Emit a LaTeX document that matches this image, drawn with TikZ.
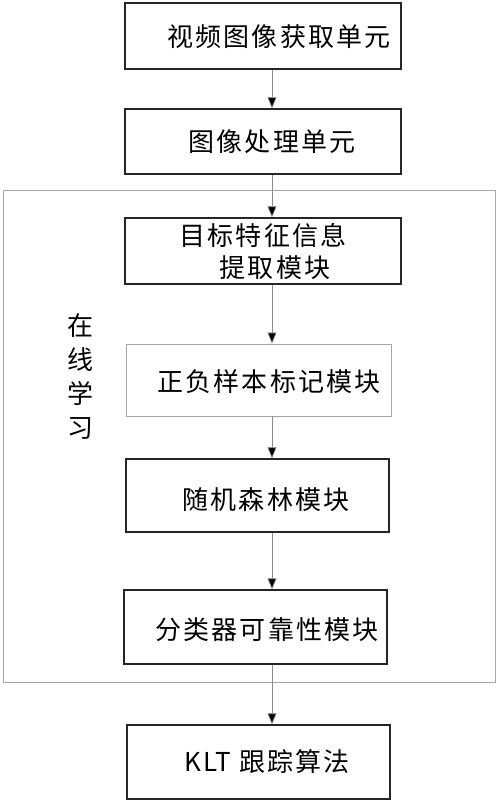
\documentclass[tikz,border=0pt]{standalone}
\usepackage{fontspec}
\setmainfont{Noto Sans CJK SC}
\newfontfamily\cjk[LetterSpace=8]{Noto Sans CJK SC}
\usetikzlibrary{arrows.meta}
\begin{document}
\begin{tikzpicture}[x=1pt,y=-1pt,
  box/.style={draw=black!85,line width=1.4pt,rectangle,inner sep=0pt},
  lbl/.style={font=\cjk\fontsize{26}{30}\selectfont,inner sep=0pt,anchor=center},
  arr/.style={draw=black!45,line width=0.7pt,-{Triangle[length=11pt,width=9pt,fill=black]}}]
\useasboundingbox (0,0) rectangle (500,805);
\fill[white] (0,0) rectangle (500,805);
% outer online-learning frame
\node[draw=black!35,line width=1pt,rectangle,inner sep=0pt,minimum width=492pt,minimum height=492pt] (outer) at (249,436) {};
\node[font=\cjk\fontsize{26}{34}\selectfont,align=center,inner sep=0pt] (zx) at (80,377) {在\\线\\学\\习};
% boxes
\node[box,minimum width=276pt,minimum height=66pt] (b1) at (263,36) {};
\node[box,minimum width=276pt,minimum height=65pt] (b2) at (263,141.5) {};
\node[box,minimum width=276pt,minimum height=66pt] (b3) at (263,251) {};
\node[draw=black!35,line width=0.9pt,rectangle,inner sep=0pt,minimum width=265pt,minimum height=72pt] (b4) at (258.5,380) {};
\node[box,minimum width=263pt,minimum height=73pt] (b5) at (257.5,495.5) {};
\node[box,minimum width=263pt,minimum height=74pt] (b6) at (255.5,627) {};
\node[box,minimum width=263pt,minimum height=74pt] (b7) at (258.5,762) {};
% labels
\node[lbl] (t1) at (279,37) {视频图像获取单元};
\node[lbl] (t2) at (272,142) {图像处理单元};
\node[lbl] (t3a) at (263,236) {目标特征信息};
\node[lbl] (t3b) at (275,268) {提取模块};
\node[lbl] (t4) at (269,382) {正负样本标记模块};
\node[lbl] (t5) at (266,500) {随机森林模块};
\node[lbl] (t6) at (267,630) {分类器可靠性模块};
\node[lbl] (t7) at (267,762) {KLT 跟踪算法};
% arrows
\coordinate (ax) at (272,0);
\draw[arr] (b1.south -| ax) -- (b2.north -| ax);
\draw[arr] (b2.south -| ax) -- (b3.north -| ax);
\draw[arr] (b3.south -| ax) -- (b4.north -| ax);
\draw[arr] (b4.south -| ax) -- (b5.north -| ax);
\draw[arr] (b5.south -| ax) -- (b6.north -| ax);
\draw[arr] (b6.south -| ax) -- (b7.north -| ax);
\end{tikzpicture}
\end{document}
